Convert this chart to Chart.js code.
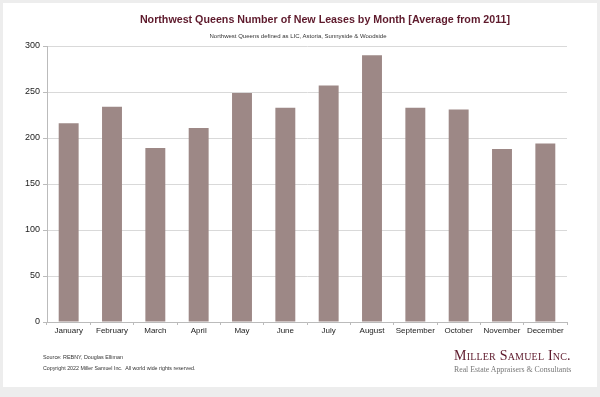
<!DOCTYPE html>
<html>
<head>
<meta charset="utf-8">
<script src="https://cdn.jsdelivr.net/npm/chart.js@4"></script>
<style>
  html, body { margin: 0; padding: 0; }
  body { width: 600px; height: 397px; background: #ededed; position: relative; overflow: hidden; font-family: "Liberation Sans", Arial, sans-serif; }
  #card { position: absolute; left: 3px; top: 3px; width: 594px; height: 384px; background: #fff; }
  #chart { position: absolute; left: 0; top: 0; }
  .txt { position: absolute; white-space: nowrap; }
  #title { left: 325px; top: 13px; transform: translateX(-50%); font-weight: bold; font-size: 10.7px; color: #5e1a2c; }
  #subtitle { left: 298px; top: 33px; transform: translateX(-50%); font-size: 6px; color: #333; }
  #source { left: 43px; top: 354px; font-size: 5.4px; color: #333; }
  #copyright { left: 43px; top: 365px; font-size: 5.3px; color: #333; }
  #logo { left: 454px; top: 348px; font-family: "Liberation Serif", "Times New Roman", serif; font-variant: small-caps; font-size: 14px; color: #5e1a2c; letter-spacing: 0.2px; }
  #tagline { left: 454px; top: 365px; font-family: "Liberation Serif", "Times New Roman", serif; font-size: 7.8px; color: #777; }
</style>
</head>
<body>
<div id="card"></div>
<canvas id="chart" width="600" height="397"></canvas>
<div class="txt" id="title">Northwest Queens Number of New Leases by Month [Average from 2011]</div>
<div class="txt" id="subtitle">Northwest Queens defined as LIC, Astoria, Sunnyside &amp; Woodside</div>
<div class="txt" id="source">Source: REBNY, Douglas Elliman</div>
<div class="txt" id="copyright">Copyright 2022 Miller Samuel Inc.&nbsp; All world wide rights reserved.</div>
<div class="txt" id="logo">Miller Samuel Inc.</div>
<div class="txt" id="tagline">Real Estate Appraisers &amp; Consultants</div>
<script>
const months = ['January', 'February', 'March', 'April', 'May', 'June',
    'July', 'August', 'September', 'October', 'November', 'December'];
const newLeases = [216, 234, 189, 211, 249, 233, 257, 290, 233, 231, 188, 194];
const yTicks = [0, 50, 100, 150, 200, 250, 300];

const ctx = document.getElementById('chart').getContext('2d');
new Chart(ctx, {
    type: 'bar',
    data: {
        labels: months,
        datasets: [{
            label: 'New Leases',
            data: newLeases,
            backgroundColor: '#9d8886',
            borderWidth: 0,
            categoryPercentage: 0.92,
            barPercentage: 0.5
        }]
    },
    options: {
        responsive: false,
        animation: false,
        layout: {
            padding: { left: 0, right: 33, top: 46, bottom: 0 }
        },
        plugins: {
            legend: { display: false },
            tooltip: { enabled: false }
        },
        scales: {
            x: {
                afterFit: (scale) => { scale.height = 75; },
                grid: {
                    offset: true,
                    drawOnChartArea: false,
                    drawTicks: true,
                    tickLength: 3,
                    color: '#bbbbbb'
                },
                border: { color: '#bbbbbb' },
                ticks: {
                    padding: 1,
                    maxRotation: 0,
                    minRotation: 0,
                    color: '#222',
                    font: { family: 'Liberation Sans', size: 8 }
                }
            },
            y: {
                min: 0,
                max: 300,
                afterFit: (scale) => { scale.width = 47; },
                afterBuildTicks: (scale) => {
                    scale.ticks = yTicks.map(v => ({ value: v }));
                },
                grid: {
                    color: '#d9d9d9',
                    tickLength: 4,
                    tickColor: '#bbbbbb'
                },
                border: { color: '#bbbbbb' },
                ticks: {
                    padding: 3,
                    color: '#222',
                    font: { family: 'Liberation Sans', size: 9 }
                }
            }
        }
    }
});
</script>
</body>
</html>
